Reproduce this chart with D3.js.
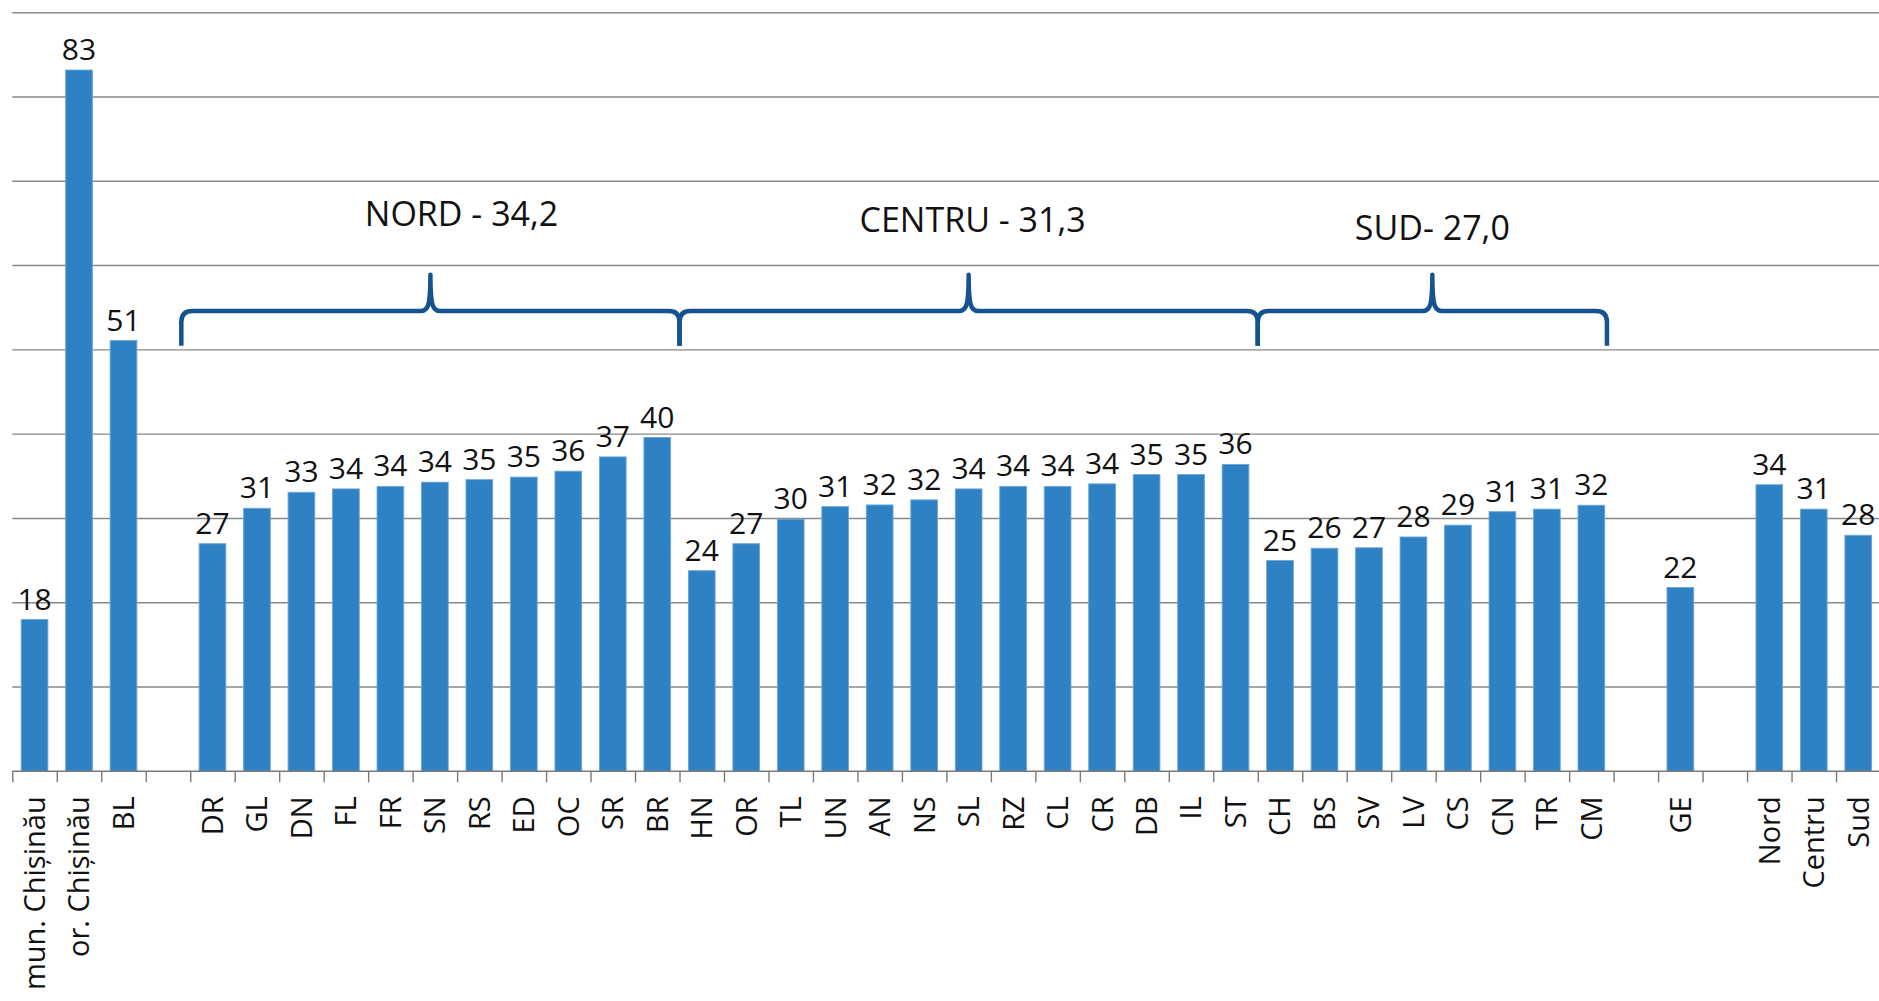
<!DOCTYPE html>
<html>
<head>
<meta charset="utf-8">
<script src="https://cdn.jsdelivr.net/npm/d3@7"></script>
<style>
  html, body { margin: 0; padding: 0; background: #ffffff; }
  svg { display: block; }
  text { font-family: "Open Sans", "Noto Sans", sans-serif; fill: #111; }
</style>
</head>
<body>
<svg id="chart" width="1879" height="1001"></svg>
<script>
// Districts and municipalities, in display order (empty strings are spacer slots)
const categories = [
  "mun. Chișinău", "or. Chișinău", "BL", "",
  "DR", "GL", "DN", "FL", "FR", "SN", "RS", "ED", "OC", "SR", "BR",
  "HN", "OR", "TL", "UN", "AN", "NS", "SL", "RZ", "CL", "CR", "DB", "IL", "ST",
  "CH", "BS", "SV", "LV", "CS", "CN", "TR", "CM", "",
  "GE", "",
  "Nord", "Centru", "Sud"
];

const values = [
  18.0, 83.2, 51.1, null,
  27.0, 31.2, 33.1, 33.5, 33.8, 34.3, 34.6, 34.9, 35.6, 37.3, 39.6,
  23.8, 27.0, 29.9, 31.4, 31.6, 32.2, 33.5, 33.8, 33.8, 34.1, 35.2, 35.2, 36.4,
  25.0, 26.46, 26.52, 27.8, 29.2, 30.8, 31.1, 31.56, null,
  21.8, null,
  34.0, 31.1, 28.0
];

// Regional groups marked with braces above the bars
const groupNames = ["NORD - 34,2", "CENTRU - 31,3", "SUD- 27,0"];
const groupFirst = ["DR", "HN", "CH"];
const groupLast  = ["BR", "ST", "CM"];

const yTicks = [10, 20, 30, 40, 50, 60, 70, 80, 90];

const svg = d3.select("#chart");
const W = 1879, H = 1001;
const plot = { left: 12.3, right: 1880.5, top: 12.7, bottom: 771.3 };

const idx = d3.range(categories.length);

const x = d3.scaleBand()
  .domain(idx)
  .range([plot.left, plot.right])
  .paddingInner(0.4)
  .paddingOuter(0.2);
const step = x.step();

// category boundaries (for the tick marks between categories)
const xEdge = d3.scaleLinear()
  .domain([0, categories.length])
  .range([plot.left, plot.left + step * categories.length]);

const y = d3.scaleLinear().domain([0, 90]).range([plot.bottom, plot.top]);

svg.append("rect").attr("width", W).attr("height", H).attr("fill", "#fff");

// horizontal gridlines
svg.append("g")
  .selectAll("line")
  .data(yTicks)
  .join("line")
  .attr("x1", plot.left)
  .attr("x2", W)
  .attr("y1", d => y(d))
  .attr("y2", d => y(d))
  .attr("stroke", "#888888")
  .attr("stroke-width", 1.4);

// bars
const barData = idx.filter(i => values[i] != null);
svg.append("g")
  .selectAll("rect")
  .data(barData)
  .join("rect")
  .attr("x", i => x(i))
  .attr("width", x.bandwidth())
  .attr("y", i => y(values[i]))
  .attr("height", i => y(0) - y(values[i]))
  .attr("fill", "#2e81c3")
  .attr("stroke", "#6aa6db")
  .attr("stroke-width", 0.9);

// value labels
svg.append("g")
  .selectAll("text")
  .data(barData)
  .join("text")
  .attr("x", i => x(i) + x.bandwidth() / 2)
  .attr("y", i => y(values[i]) - 10)
  .attr("text-anchor", "middle")
  .style("font-size", "30px")
  .text(i => d3.format(".0f")(values[i]));

// baseline with boundary ticks
const edgeAxis = d3.axisBottom(xEdge)
  .tickValues(d3.range(0, categories.length + 1))
  .tickSize(11)
  .tickSizeOuter(0)
  .tickFormat("");
const gEdge = svg.append("g")
  .attr("transform", `translate(0,${plot.bottom})`)
  .call(edgeAxis);
gEdge.select(".domain").attr("stroke", "#7a7a7a").attr("stroke-width", 1.6)
  .attr("d", `M${plot.left},0H${W + 5}`);
gEdge.selectAll(".tick line").attr("stroke", "#7a7a7a").attr("stroke-width", 1.4);

// rotated category labels
const labelAxis = d3.axisBottom(x)
  .tickSize(0)
  .tickFormat(i => categories[i]);
const gLab = svg.append("g")
  .attr("transform", `translate(0,${plot.bottom})`)
  .call(labelAxis);
gLab.select(".domain").remove();
gLab.selectAll(".tick text")
  .attr("transform", "rotate(-90)")
  .attr("x", -25)
  .attr("y", 0)
  .attr("dy", "0.36em")
  .attr("text-anchor", "end")
  .style("font-size", "29px")
  .style("font-family", "'Open Sans', sans-serif")
  .attr("fill", "#111");

// braces and regional titles
function bracePath(x0, x1, yTip, yMid, yBot) {
  const r = 11, w = 10, xm = (x0 + x1) / 2;
  return `M${x0},${yBot} L${x0},${yMid + r} Q${x0},${yMid} ${x0 + r},${yMid}` +
    ` L${xm - w},${yMid} C${xm - 2},${yMid} ${xm},${yMid - 6} ${xm},${yTip}` +
    ` C${xm},${yMid - 6} ${xm + 2},${yMid} ${xm + w},${yMid}` +
    ` L${x1 - r},${yMid} Q${x1},${yMid} ${x1},${yMid + r} L${x1},${yBot}`;
}

const gBrace = svg.append("g");
const titleLevels = [64.7, 64.0, 63.05];
groupNames.forEach((name, g) => {
  const i0 = categories.indexOf(groupFirst[g]);
  const i1 = categories.indexOf(groupLast[g]);
  let left = xEdge(i0), right = xEdge(i1 + 1);
  if (g === 0) left -= step * 0.2;
  if (g === groupNames.length - 1) right -= step * 0.15;
  gBrace.append("path")
    .attr("d", bracePath(left, right, y(58.9), y(54.6), y(50.5)))
    .attr("fill", "none")
    .attr("stroke", "#15538f")
    .attr("stroke-width", 4.5)
    .attr("stroke-linejoin", "round");
  const mid = (left + right) / 2 + (g === 0 ? step * 0.7 : g === 1 ? 4 : 0);
  gBrace.append("text")
    .attr("x", mid)
    .attr("y", y(titleLevels[g]))
    .attr("text-anchor", "middle")
    .style("font-size", "34px")
    .text(name);
});
</script>
</body>
</html>
